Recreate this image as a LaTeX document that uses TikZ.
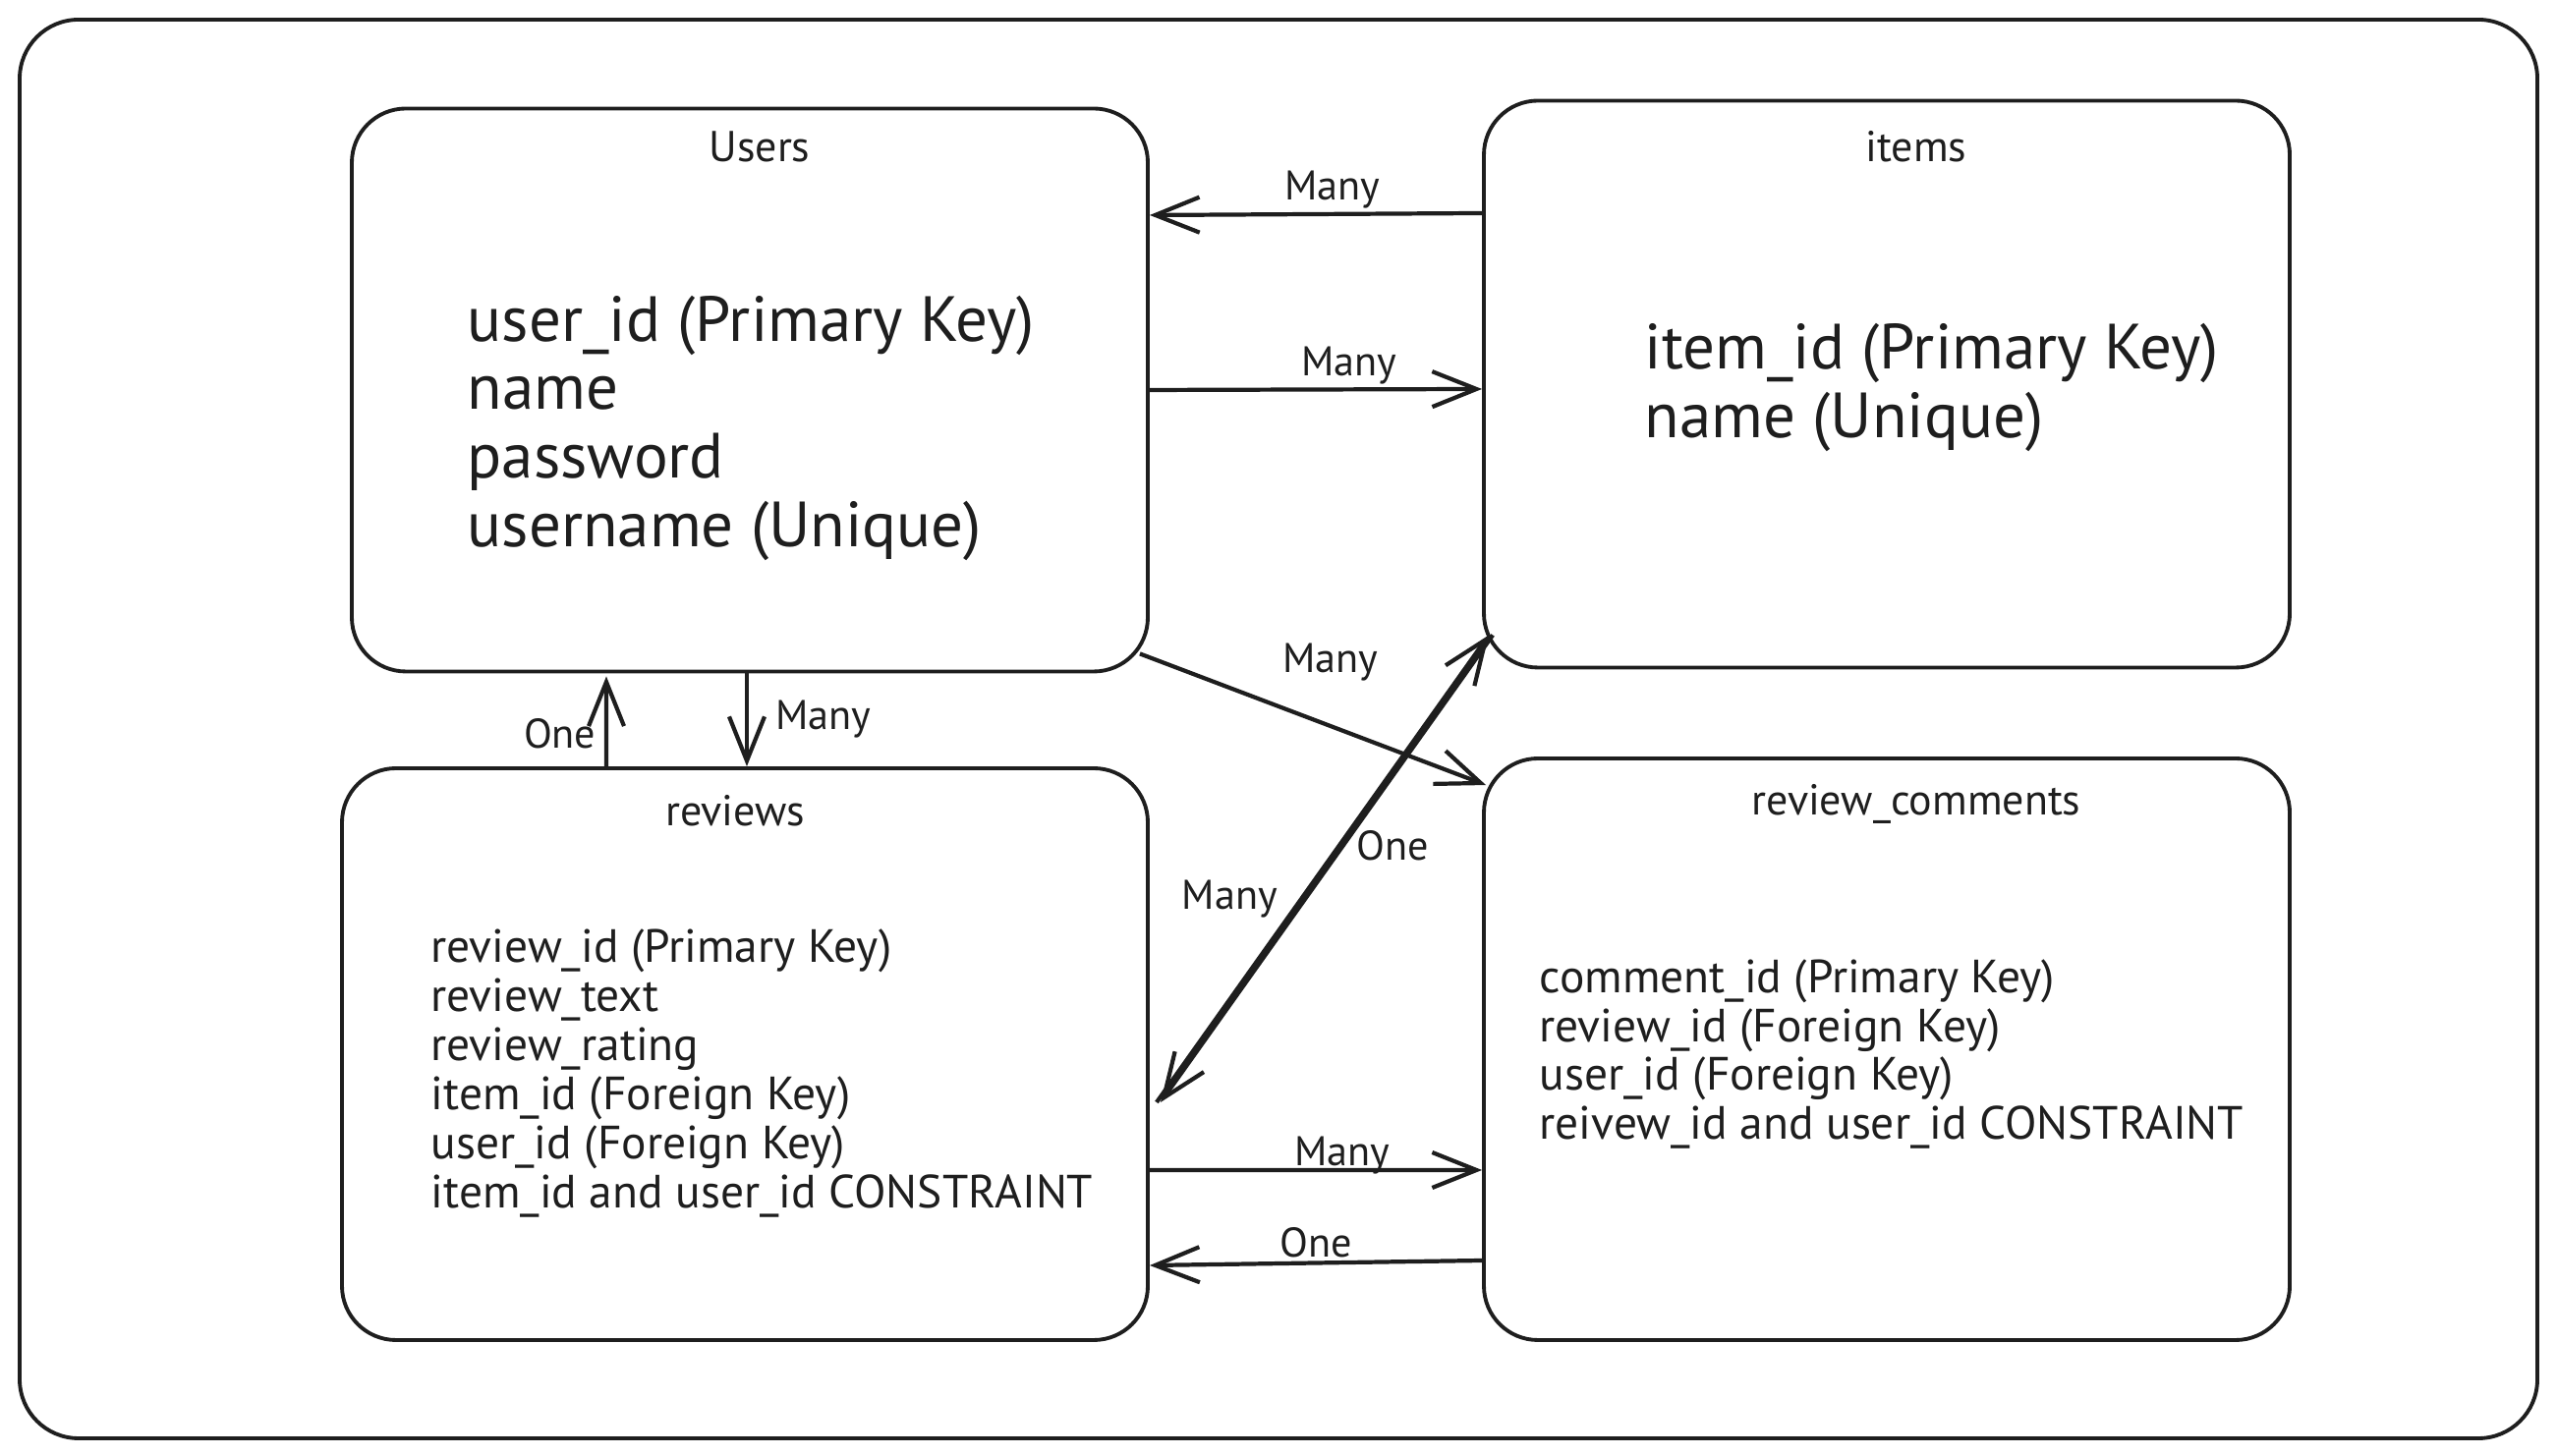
\documentclass[tikz,border=0pt]{standalone}
\usepackage{fontspec}
\setmainfont{PT Sans}
\usetikzlibrary{arrows.meta}
\definecolor{ink}{HTML}{1E1E1E}

\begin{document}
\begin{tikzpicture}[
    table/.style={draw=ink,line width=1.1pt,rounded corners=0.55cm,minimum width=8.2cm},
    title/.style={text=ink,font=\fontsize{12.5}{14}\selectfont},
    bigfields/.style={text=ink,align=left,anchor=west,inner sep=0pt,font=\fontsize{18.5}{19.9}\selectfont},
    fields/.style={text=ink,align=left,anchor=west,inner sep=0pt,font=\fontsize{13.5}{14.2}\selectfont},
    arr/.style={draw=ink,line width=1.2pt,-{Straight Barb[length=4.5mm,width=3.6mm]}},
    lbl/.style={text=ink,font=\fontsize{12}{14}\selectfont,inner sep=1pt}
  ]
    \useasboundingbox (0,0) rectangle (26.02,14.82);
    \draw[ink,line width=1.1pt,rounded corners=0.6cm] (0.20,0.18) rectangle (25.82,14.62);
    % tables
    \node[table,minimum width=8.10cm,minimum height=5.73cm] (users) at (7.63,10.85) {};
    \node[table,minimum height=5.77cm] (items) at (19.20,10.91) {};
    \node[table,minimum height=5.82cm] (reviews) at (7.58,4.09) {};
    \node[table,minimum height=5.92cm] (comments) at (19.20,4.14) {};
    % titles
    \node[title] (userstitle) at (7.73,13.33) {Users};
    \node[title] (itemstitle) at (19.50,13.33) {items};
    \node[title] (reviewstitle) at (7.48,6.57) {reviews};
    \node[title] (commentstitle) at (19.50,6.64) {review\_comments};
    % columns
    \node[bigfields] (userfields) at (4.75,10.46) {user\_id (Primary Key)\\name\\password\\username (Unique)};
    \node[bigfields] (itemfields) at (16.73,10.87) {item\_id (Primary Key)\\name (Unique)};
    \node[fields] (reviewfields) at (4.38,3.895) {review\_id (Primary Key)\\review\_text\\review\_rating\\item\_id (Foreign Key)\\user\_id (Foreign Key)\\item\_id and user\_id CONSTRAINT};
    \node[fields] (commentfields) at (15.66,4.09) {comment\_id (Primary Key)\\review\_id (Foreign Key)\\user\_id (Foreign Key)\\reivew\_id and user\_id CONSTRAINT};
    % relations
    \draw[arr] ([yshift=1.74cm]items.west) -- node[lbl,pos=0.45,above] (l1) {Many} ([yshift=1.78cm]users.east);
    \draw[arr] (users.east) -- node[lbl,pos=0.6,above] (l2) {Many} ([yshift=-0.05cm]items.west);
    \draw[arr] ([shift={(-0.10,0.20)}]users.south east) -- node[lbl,pos=0.55,above=4mm] (l3) {Many} ([shift={(0.04,-0.29)}]comments.north west);
    \draw[arr] ([shift={(0.07,-0.49)}]reviews.east) -- node[lbl,pos=0.55,right=1.2mm] (l4) {One} ([shift={(0.07,0.35)}]items.south west);
    \draw[arr] ([shift={(0.11,0.35)}]items.south west) -- node[lbl,pos=0.564,left=2.3mm] (l5) {Many} ([shift={(0.11,-0.49)}]reviews.east);
    \draw[arr] ([xshift=-1.41cm]reviews.north) -- node[lbl,pos=0.36,left=0.5mm] (l6) {One} ([shift={(-1.46,-0.03)}]users.south);
    \draw[arr] ([xshift=-0.03cm]users.south) -- node[lbl,pos=0.49,right=2.4mm] (l7) {Many} ([xshift=0.02cm]reviews.north);
    \draw[arr] ([yshift=-1.18cm]reviews.east) -- node[lbl,pos=0.58,above=-1mm] (l8) {Many} ([yshift=-1.23cm]comments.west);
    \draw[arr] ([yshift=-2.15cm]comments.west) -- node[lbl,pos=0.5,above] (l9) {One} ([yshift=-2.15cm]reviews.east);
\end{tikzpicture}
\end{document}
